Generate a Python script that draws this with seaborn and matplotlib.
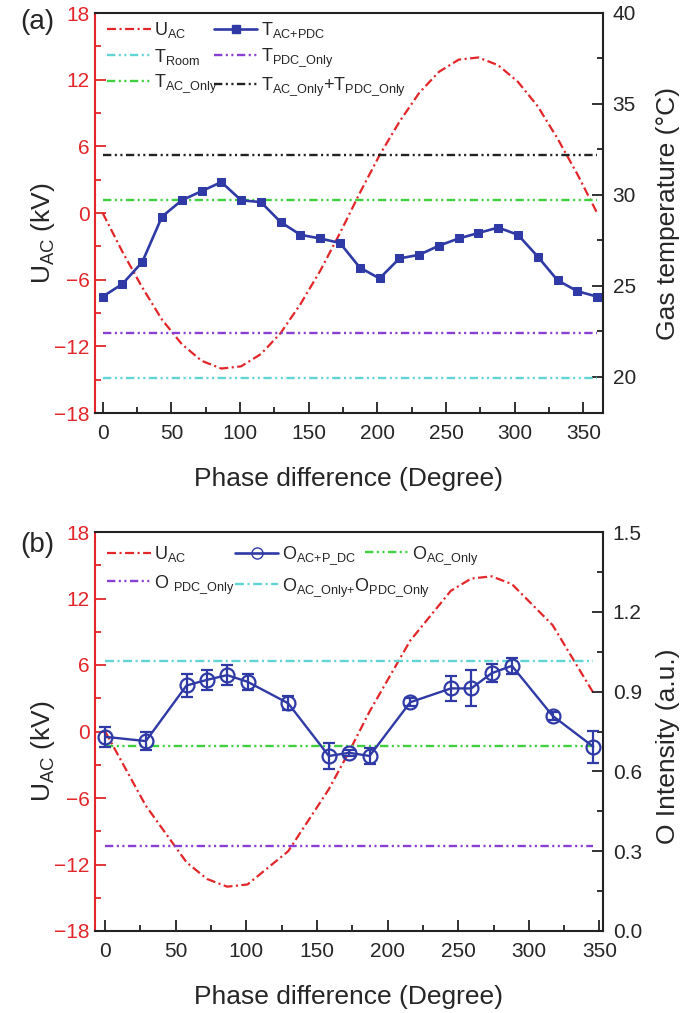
import matplotlib
matplotlib.use("Agg")
import matplotlib.pyplot as plt
import seaborn as sns
import pandas as pd
from matplotlib.ticker import MultipleLocator, FormatStrFormatter
from matplotlib.lines import Line2D

sns.set_style("ticks")
plt.rcParams['font.family'] = ['Liberation Sans', 'DejaVu Sans']
plt.rcParams['mathtext.fontset'] = 'custom'
plt.rcParams['mathtext.rm'] = 'Liberation Sans'
plt.rcParams['mathtext.it'] = 'Liberation Sans:italic'
plt.rcParams['mathtext.bf'] = 'Liberation Sans:bold'
plt.rcParams['lines.scale_dashes'] = False

# ---- data, panel (a) ----
phase_a = [0, 14.4, 28.8, 43.2, 57.6, 72, 86.4, 100.8, 115.2, 129.6, 144, 158.4, 172.8,
           187.2, 201.6, 216, 230.4, 244.8, 259.2, 273.6, 288, 302.4, 316.8, 331.2, 345.6, 360]
u_ac_a = [0, -3.5, -6.7, -9.6, -11.8, -13.3, -14.0, -13.8, -12.7, -10.8, -8.2, -5.2, -1.8,
          1.8, 5.2, 8.2, 10.8, 12.7, 13.8, 14.0, 13.3, 11.8, 9.6, 6.7, 3.5, 0]
t_ac_pdc = [24.4, 25.1, 26.3, 28.8, 29.7, 30.2, 30.7, 29.7, 29.6, 28.5, 27.8, 27.6, 27.35,
            26.0, 25.4, 26.5, 26.7, 27.2, 27.6, 27.9, 28.2, 27.8, 26.6, 25.3, 24.7, 24.4]
t_room = 19.9
t_pdc_only = 22.4
t_ac_only = 29.7
t_sum = 32.2

# ---- data, panel (b) ----
phase_b = [0, 28.8, 57.6, 72, 86.4, 100.8, 129.6, 158.4, 172.8, 187.2, 216, 244.8, 259.2,
           273.6, 288, 316.8, 345.6]
u_ac_b = [0, -6.7, -11.8, -13.3, -14.0, -13.8, -10.8, -5.2, -1.8, 1.8, 8.2, 12.7, 13.8,
          14.0, 13.3, 9.6, 3.5]
o_ac_pdc = [0.730, 0.714, 0.923, 0.944, 0.962, 0.937, 0.856, 0.658, 0.670, 0.658, 0.860,
            0.912, 0.912, 0.969, 0.997, 0.809, 0.693]
o_err = [0.038, 0.035, 0.045, 0.038, 0.038, 0.030, 0.027, 0.048, 0.012, 0.030, 0.015,
         0.047, 0.068, 0.033, 0.030, 0.015, 0.060]
o_ac_only = 0.697
o_pdc_only = 0.321
o_sum = 1.015

RED = '#e2262a'
BLUE = '#2f3aa6'
CYAN = '#62d4d4'
PURPLE = '#8a3fd4'
GREEN = '#3fcf3f'
BLACK = '#222222'
DASHDOT = (0, (6.5, 2.5, 1.5, 2.5))
DASHDOTDOT = (0, (6, 2.5, 1.5, 2.5, 1.5, 2.5))

TICK_FS = 15
LABEL_FS = 19
LEG_FS = 13
W, H = 685, 1013


def style_axes(ax, ax2, xlim):
    ax.set_xlim(*xlim)
    ax.set_ylim(-18, 18)
    ax.xaxis.set_major_locator(MultipleLocator(50))
    ax.xaxis.set_minor_locator(MultipleLocator(25))
    ax.yaxis.set_major_locator(MultipleLocator(6))
    ax.yaxis.set_minor_locator(MultipleLocator(3))
    ax.tick_params(axis='x', which='both', direction='in', top=False, labelsize=TICK_FS,
                   width=1.3, pad=8, color=BLACK)
    ax.tick_params(axis='x', which='major', length=8)
    ax.tick_params(axis='x', which='minor', length=4)
    ax.tick_params(axis='y', which='both', direction='in', colors=RED, labelsize=TICK_FS,
                   width=1.3, right=False, pad=4)
    ax.tick_params(axis='y', which='major', length=8)
    ax.tick_params(axis='y', which='minor', length=4)
    ax2.tick_params(axis='y', which='both', direction='in', labelsize=TICK_FS, width=1.3,
                    pad=7, color=BLACK)
    ax2.tick_params(axis='y', which='major', length=8)
    ax2.tick_params(axis='y', which='minor', length=4)
    for s in ['top', 'bottom', 'right']:
        ax2.spines[s].set_visible(True)
        ax2.spines[s].set_color(BLACK)
        ax2.spines[s].set_linewidth(1.5)
    ax2.spines['left'].set_color(RED)
    ax2.spines['left'].set_linewidth(1.5)
    for s in ax.spines.values():
        s.set_visible(False)
    ax.set_xlabel('Phase difference (Degree)', fontsize=LABEL_FS, labelpad=17)
    ax.set_ylabel(r'U$_{\mathrm{AC}}$ (kV)', fontsize=LABEL_FS)
    ax.yaxis.set_label_coords(-0.075, 0.45)


fig = plt.figure(figsize=(6.85, 10.13), dpi=100)

# ================= panel (a) =================
ax = fig.add_axes([95 / W, 1 - 413 / H, 508 / W, 400 / H])
ax2 = ax.twinx()
df_a = pd.DataFrame({'phase': phase_a, 'u': u_ac_a, 't': t_ac_pdc})

sns.lineplot(data=df_a, x='phase', y='u', ax=ax, color=RED, lw=1.6, linestyle=DASHDOT)
x0, x1 = phase_a[0], phase_a[-1]
ax2.hlines(t_room, x0, x1, color=CYAN, lw=1.7, linestyle=DASHDOTDOT)
ax2.hlines(t_pdc_only, x0, x1, color=PURPLE, lw=1.7, linestyle=DASHDOTDOT)
ax2.hlines(t_ac_only, x0, x1, color=GREEN, lw=1.7, linestyle=DASHDOTDOT)
ax2.hlines(t_sum, x0, x1, color=BLACK, lw=1.7, linestyle=DASHDOTDOT)
sns.lineplot(data=df_a, x='phase', y='t', ax=ax2, color=BLUE, lw=1.9, marker='s',
             markersize=6, markeredgecolor=BLUE)
ax2.set_ylim(18, 40)
ax2.yaxis.set_major_locator(MultipleLocator(5))
ax2.yaxis.set_minor_locator(MultipleLocator(2.5))
ax2.set_yticks([20, 25, 30, 35, 40])
ax2.set_ylabel('Gas temperature (°C)', fontsize=LABEL_FS)
ax2.yaxis.set_label_coords(1.105, 0.5)
style_axes(ax, ax2, (-5.6, 364.3))

h_a = [
    Line2D([], [], color=RED, lw=1.6, linestyle=DASHDOT),
    Line2D([], [], color=CYAN, lw=1.7, linestyle=DASHDOTDOT),
    Line2D([], [], color=GREEN, lw=1.7, linestyle=DASHDOTDOT),
    Line2D([], [], color=BLUE, lw=1.9, marker='s', markersize=6),
    Line2D([], [], color=PURPLE, lw=1.7, linestyle=DASHDOTDOT),
    Line2D([], [], color=BLACK, lw=1.7, linestyle=DASHDOTDOT),
]
l_a = [r'U$_{\mathrm{AC}}$', r'T$_{\mathrm{Room}}$', r'T$_{\mathrm{AC\_Only}}$',
       r'T$_{\mathrm{AC{+}PDC}}$', r'T$_{\mathrm{PDC\_Only}}$',
       r'T$_{\mathrm{AC\_Only}}$+T$_{\mathrm{PDC\_Only}}$']
ax2.legend(h_a, l_a, ncol=2, loc='upper left', bbox_to_anchor=(5 / 508, 1.0),
           frameon=False, fontsize=LEG_FS, handlelength=2.4, handletextpad=0.2,
           columnspacing=-0.2, labelspacing=0.35, borderaxespad=0)
fig.text(20 / W, 1 - 22 / H, '(a)', fontsize=20, va='center', ha='left')

# ================= panel (b) =================
bx = fig.add_axes([95 / W, 1 - 931 / H, 508 / W, 399 / H])
bx2 = bx.twinx()
df_b = pd.DataFrame({'phase': phase_b, 'u': u_ac_b, 'o': o_ac_pdc, 'err': o_err})

sns.lineplot(data=df_b, x='phase', y='u', ax=bx, color=RED, lw=1.6, linestyle=DASHDOT)
x0, x1 = phase_b[0], phase_b[-1]
bx2.hlines(o_sum, x0, x1, color=CYAN, lw=1.7, linestyle=DASHDOT)
bx2.hlines(o_ac_only, x0, x1, color=GREEN, lw=1.7, linestyle=DASHDOTDOT)
bx2.hlines(o_pdc_only, x0, x1, color=PURPLE, lw=1.7, linestyle=DASHDOTDOT)
sns.lineplot(data=df_b, x='phase', y='o', ax=bx2, color=BLUE, lw=1.7, marker='o',
             markersize=10, markerfacecolor='none', markeredgecolor=BLUE,
             markeredgewidth=1.6)
bx2.errorbar(df_b['phase'], df_b['o'], yerr=df_b['err'], fmt='none', ecolor=BLUE,
             elinewidth=1.6, capsize=4, capthick=1.6)
bx2.set_ylim(0, 1.5)
bx2.yaxis.set_major_locator(MultipleLocator(0.3))
bx2.yaxis.set_minor_locator(MultipleLocator(0.15))
bx2.yaxis.set_major_formatter(FormatStrFormatter('%.1f'))
bx2.set_ylabel('O Intensity (a.u.)', fontsize=LABEL_FS)
bx2.yaxis.set_label_coords(1.105, 0.464)
style_axes(bx, bx2, (-7.2, 352.5))

h_b = [
    Line2D([], [], color=RED, lw=1.6, linestyle=DASHDOT),
    Line2D([], [], color=PURPLE, lw=1.7, linestyle=DASHDOTDOT),
    Line2D([], [], color=BLUE, lw=1.9, marker='o', markersize=8, markerfacecolor='none'),
    Line2D([], [], color=CYAN, lw=1.7, linestyle=DASHDOT),
]
l_b = [r'U$_{\mathrm{AC}}$', r'O $_{\mathrm{PDC\_Only}}$', r'O$_{\mathrm{AC{+}P\_DC}}$',
       r'O$_{\mathrm{AC\_Only{+}}}$O$_{\mathrm{PDC\_Only}}$']
leg_b = bx2.legend(h_b, l_b, ncol=2, loc='upper left', bbox_to_anchor=(5 / 508, 1 - 5 / 399),
                   frameon=False, fontsize=LEG_FS, handlelength=2.4, handletextpad=0.2,
                   columnspacing=0.0, labelspacing=0.5, borderaxespad=0)
bx2.add_artist(leg_b)
bx2.legend([Line2D([], [], color=GREEN, lw=1.7, linestyle=DASHDOTDOT)],
           [r'O$_{\mathrm{AC\_Only}}$'], loc='upper left',
           bbox_to_anchor=((358 - 95) / 508, 1 - 5 / 399), frameon=False,
           fontsize=LEG_FS, handlelength=2.4, handletextpad=0.2, borderaxespad=0)
fig.text(20 / W, 1 - 545 / H, '(b)', fontsize=20, va='center', ha='left')

fig.savefig('out.png', dpi=100)
